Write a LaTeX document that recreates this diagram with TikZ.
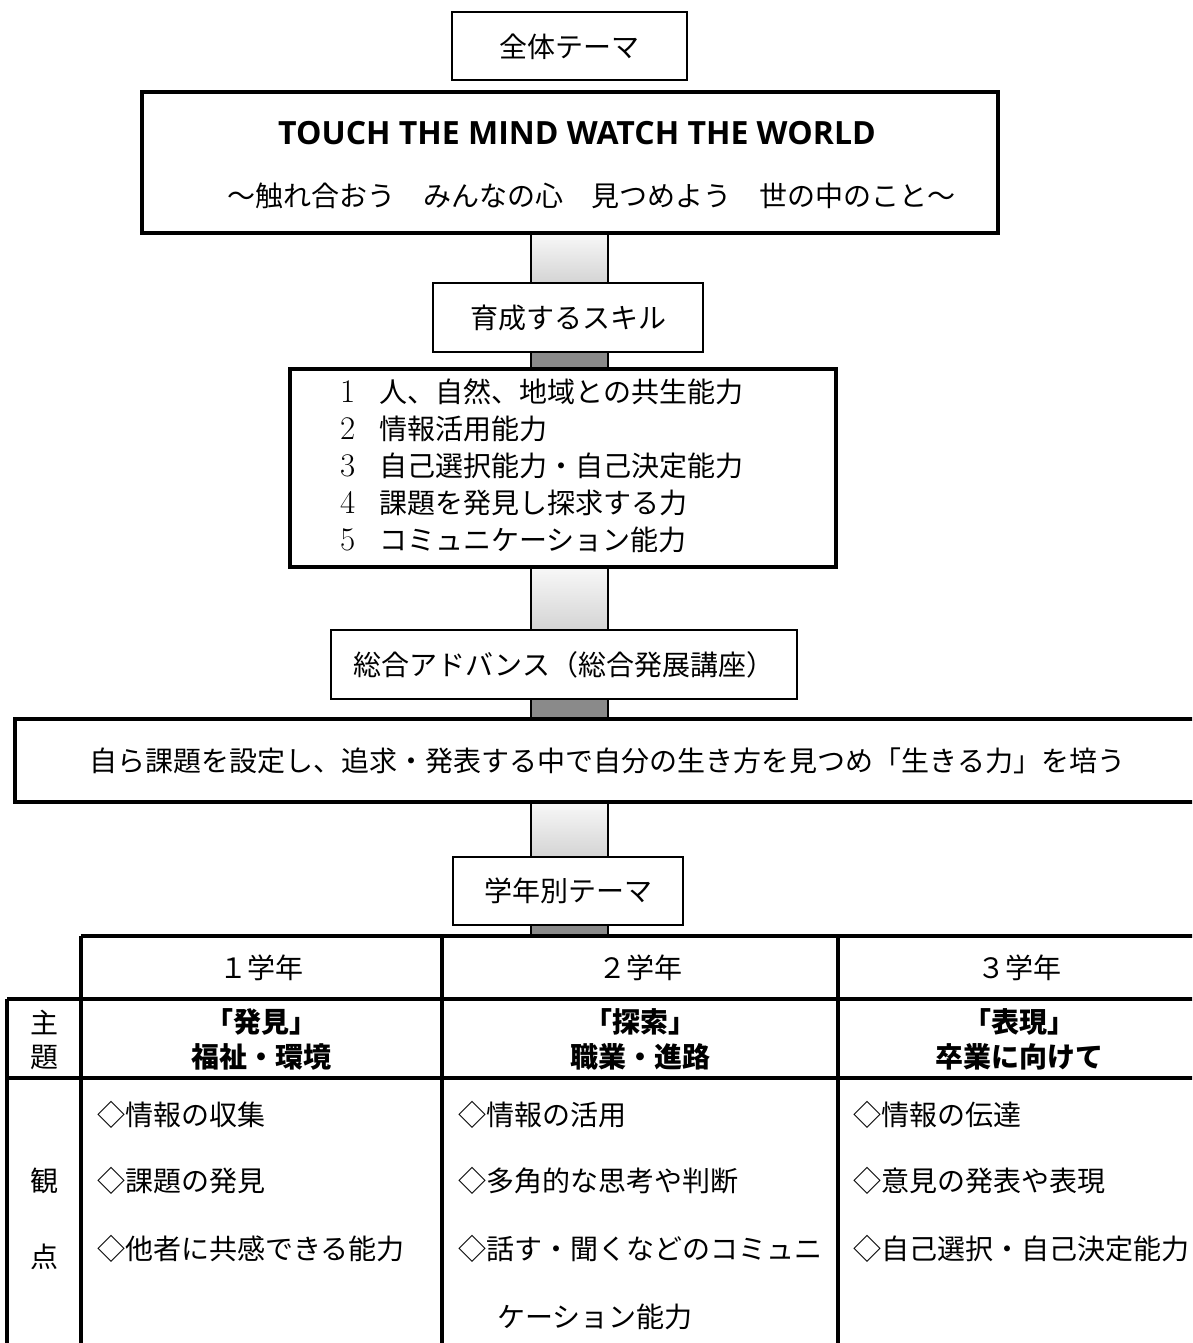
\documentclass[tikz,border=0pt]{standalone}
\usepackage{fontspec}
\newfontfamily\jp{Noto Sans CJK JP}
\newfontfamily\touchfont{Open Sans}
\usetikzlibrary{calc,backgrounds}
\definecolor{barlight}{HTML}{F8F8F8}
\definecolor{barlightb}{HTML}{D4D4D4}
\definecolor{bardark}{HTML}{8A8A8A}
\newcommand{\skillnum}[1]{{\rmfamily\fontsize{33}{38}\selectfont #1}\hskip 24pt}
\begin{document}
\begin{tikzpicture}[x=1pt,y=-1pt,
  txt/.style={font=\jp\fontsize{28}{34}\selectfont, inner sep=0pt},
  btxt/.style={font=\jp\bfseries\fontsize{28}{34}\selectfont, inner sep=0pt},
  thinbox/.style={draw, line width=2pt, fill=white, outer sep=0pt, inner sep=0pt},
  thickbox/.style={draw, line width=4pt, fill=white, outer sep=0pt, inner sep=0pt},
  lightbar/.style={draw, line width=2pt, top color=barlight, bottom color=barlightb},
  darkbar/.style={draw, line width=2pt, fill=bardark},
  gridline/.style={line width=4pt}
]
\useasboundingbox (0,0) rectangle (1192,1343);
\clip (0,0) rectangle (1192,1343);
\coordinate (axis) at (569.5,0);

% boxes
\node[thinbox, txt, minimum width=235pt, minimum height=68pt] (theme) at (569.5,46.5) {全体テーマ};
\node[thickbox, minimum width=856pt, minimum height=141pt] (main) at (570,162.5) {};
\node[inner sep=0pt, font=\touchfont\bfseries\fontsize{32}{38}\selectfont] (touch) at (577,133) {TOUCH THE MIND WATCH THE WORLD};
\node[txt] (fureai) at (591,196) {～触れ合おう　みんなの心　見つめよう　世の中のこと～};

\node[thinbox, txt, minimum width=270pt, minimum height=69pt] (skilltitle) at (568,317.5) {育成するスキル};

\node[thickbox, minimum width=546pt, minimum height=198pt] (skills) at (563,468) {};
\node[txt, anchor=west] (s1) at (340,392) {\skillnum{1}人、自然、地域との共生能力};
\node[txt, anchor=west] (s2) at (340,429) {\skillnum{2}情報活用能力};
\node[txt, anchor=west] (s3) at (340,466) {\skillnum{3}自己選択能力・自己決定能力};
\node[txt, anchor=west] (s4) at (340,503) {\skillnum{4}課題を発見し探求する力};
\node[txt, anchor=west] (s5) at (340,540) {\skillnum{5}コミュニケーション能力};

\node[thinbox, txt, minimum width=466pt, minimum height=69pt] (adv) at (564,664.5) {総合アドバンス（総合発展講座）};

\node[thickbox, txt, minimum width=1185pt, minimum height=83pt] (self) at (607.5,760.5) {自ら課題を設定し、追求・発表する中で自分の生き方を見つめ「生きる力」を培う};

\node[thinbox, txt, minimum width=230pt, minimum height=68pt] (grade) at (568,891) {学年別テーマ};
\coordinate (tabletop) at (569.5,936);

% white page and connector bars behind the boxes
\begin{scope}[on background layer]
\fill[white] (0,0) rectangle (1192,1343);
\path[lightbar] ($(axis |- main.south)+(-38.5,0)$) rectangle ($(axis |- skilltitle.north)+(38.5,0)$);
\path[darkbar] ($(axis |- skilltitle.south)+(-38.5,0)$) rectangle ($(axis |- skills.north)+(38.5,0)$);
\path[lightbar] ($(axis |- skills.south)+(-38.5,0)$) rectangle ($(axis |- adv.north)+(38.5,0)$);
\path[darkbar] ($(axis |- adv.south)+(-38.5,0)$) rectangle ($(axis |- self.north)+(38.5,0)$);
\path[lightbar] ($(axis |- self.south)+(-38.5,0)$) rectangle ($(axis |- grade.north)+(38.5,0)$);
\path[darkbar] ($(axis |- grade.south)+(-38.5,0)$) rectangle ($(tabletop)+(38.5,0)$);
\end{scope}

% table
\draw[gridline] (81,936) -- (1200,936);
\draw[gridline] (7,999) -- (1200,999);
\draw[gridline] (7,1078) -- (1200,1078);
\draw[gridline] (7,999) -- (7,1360);
\draw[gridline] (81,936) -- (81,1360);
\draw[gridline] (442,936) -- (442,1360);
\draw[gridline] (838,936) -- (838,1360);

\node[txt] (h1) at (261.5,968) {１学年};
\node[txt] (h2) at (640,968) {２学年};
\node[txt] (h3) at (1019,968) {３学年};

\node[txt] (lab1) at (44,1022) {主};
\node[txt] (lab2) at (44,1057) {題};
\node[txt] (lab3) at (44,1181) {観};
\node[txt] (lab4) at (44,1257) {点};

\node[btxt] (a1) at (261.5,1022) {「発見」};
\node[btxt] (b1) at (261.5,1057) {福祉・環境};
\node[btxt] (a2) at (640,1022) {「探索」};
\node[btxt] (b2) at (640,1057) {職業・進路};
\node[btxt] (a3) at (1019,1022) {「表現」};
\node[btxt] (b3) at (1019,1057) {卒業に向けて};

\node[txt, anchor=west] (c11) at (97,1115) {◇情報の収集};
\node[txt, anchor=west] (c12) at (97,1181) {◇課題の発見};
\node[txt, anchor=west] (c13) at (97,1249) {◇他者に共感できる能力};
\node[txt, anchor=west] (c21) at (458,1115) {◇情報の活用};
\node[txt, anchor=west] (c22) at (458,1181) {◇多角的な思考や判断};
\node[txt, anchor=west] (c23) at (458,1249) {◇話す・聞くなどのコミュニ};
\node[txt, anchor=west] (c24) at (497,1317) {ケーション能力};
\node[txt, anchor=west] (c31) at (853,1115) {◇情報の伝達};
\node[txt, anchor=west] (c32) at (853,1181) {◇意見の発表や表現};
\node[txt, anchor=west] (c33) at (853,1249) {◇自己選択・自己決定能力};
\end{tikzpicture}
\end{document}
